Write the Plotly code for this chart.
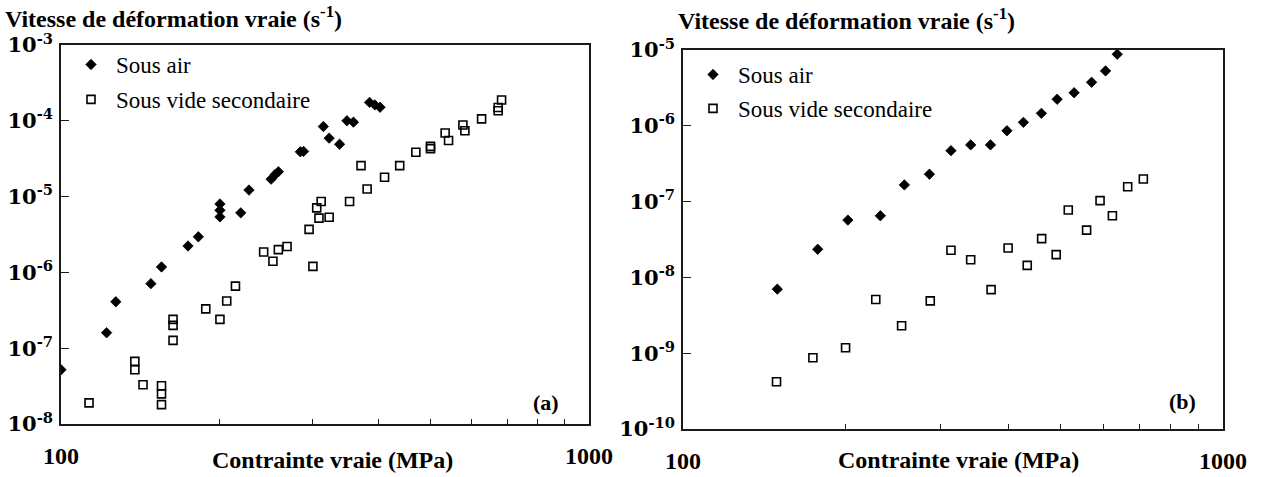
import plotly.graph_objects as go

# ---------------- data ----------------
# Panel (a)
stress_air_a = [100, 122, 127, 148, 155, 174, 182, 200, 200, 200, 219, 227, 250, 254, 258,
                284, 288, 314, 322, 337, 348, 358, 384, 393, 402]
rate_air_a = [5.2e-8, 1.6e-7, 4.1e-7, 7.1e-7, 1.18e-6, 2.23e-6, 2.95e-6, 8.0e-6, 6.6e-6, 5.4e-6,
              6.1e-6, 1.22e-5, 1.7e-5, 1.93e-5, 2.13e-5, 3.9e-5, 3.95e-5, 8.4e-5, 5.9e-5, 4.9e-5,
              1.0e-4, 9.6e-5, 1.75e-4, 1.62e-4, 1.51e-4]

stress_vide_a = [113, 138, 138, 143, 155, 155, 155, 163, 163, 163, 188, 200, 206, 214, 242,
                 252, 258, 268, 300, 295, 305, 311, 308, 322, 352, 370, 380, 410, 438, 470,
                 501, 501, 534, 542, 577, 582, 626, 673, 673, 683]
rate_vide_a = [1.9e-8, 6.7e-8, 5.2e-8, 3.3e-8, 3.2e-8, 2.5e-8, 1.8e-8, 2.4e-7, 2.0e-7, 1.27e-7,
               3.3e-7, 2.4e-7, 4.2e-7, 6.6e-7, 1.86e-6, 1.4e-6, 2.0e-6, 2.2e-6, 1.2e-6, 3.7e-6,
               7.1e-6, 8.6e-6, 5.2e-6, 5.35e-6, 8.6e-6, 2.56e-5, 1.26e-5, 1.8e-5, 2.56e-5, 3.85e-5,
               4.6e-5, 4.3e-5, 6.9e-5, 5.5e-5, 8.8e-5, 7.4e-5, 1.06e-4, 1.36e-4, 1.5e-4, 1.88e-4]

# Panel (b)
stress_air_b = [149.5, 177.6, 202, 232, 257, 286, 313.5, 341, 371, 398, 427, 461, 493, 530,
                571, 606, 637]
rate_air_b = [7.0e-9, 2.35e-8, 5.7e-8, 6.5e-8, 1.66e-7, 2.3e-7, 4.7e-7, 5.6e-7, 5.6e-7, 8.6e-7,
              1.11e-6, 1.46e-6, 2.24e-6, 2.73e-6, 3.75e-6, 5.3e-6, 8.8e-6]

stress_vide_b = [149, 174, 200, 227.5, 254, 287, 313.5, 341, 372, 400, 434, 461.5, 491, 517,
                 559, 592, 624, 666, 712]
rate_vide_b = [4.2e-10, 8.7e-10, 1.18e-9, 5.1e-9, 2.3e-9, 4.9e-9, 2.28e-8, 1.71e-8, 6.9e-9,
               2.44e-8, 1.44e-8, 3.25e-8, 2.0e-8, 7.75e-8, 4.2e-8, 1.03e-7, 6.5e-8, 1.57e-7,
               1.99e-7]

series_names = ["Sous air", "Sous vide secondaire"]
x_ticks = [100, 200, 300, 400, 500, 600, 700, 800, 900, 1000]
x_ticktext = ["100", "", "", "", "", "", "", "", "", "1000"]
y_exp_a = [-8, -7, -6, -5, -4, -3]
y_exp_b = [-10, -9, -8, -7, -6, -5]
y_title = "Vitesse de déformation vraie (s<sup>-1</sup>)"
x_title = "Contrainte vraie (MPa)"
panel_labels = ["(a)", "(b)"]

# ---------------- figure ----------------
W, H = 1263, 477
SERIF = "Liberation Serif, Tinos, 'Times New Roman', Times, serif"
INK = "#1a1a1a"

fig = go.Figure()

air_marker = dict(symbol="diamond", size=8, color="black", line=dict(width=0.8, color="black"))
vide_marker = dict(symbol="square-open", size=8, color="black", line=dict(width=1.6, color="black"))

fig.add_trace(go.Scatter(x=stress_air_a, y=rate_air_a, mode="markers", name=series_names[0],
                         marker=air_marker, xaxis="x", yaxis="y", legend="legend",
                         legendgroup="a1"))
fig.add_trace(go.Scatter(x=stress_vide_a, y=rate_vide_a, mode="markers", name=series_names[1],
                         marker=vide_marker, xaxis="x", yaxis="y", legend="legend",
                         legendgroup="a2"))
fig.add_trace(go.Scatter(x=stress_air_b, y=rate_air_b, mode="markers", name=series_names[0],
                         marker=air_marker, xaxis="x2", yaxis="y2", legend="legend2",
                         legendgroup="b1"))
fig.add_trace(go.Scatter(x=stress_vide_b, y=rate_vide_b, mode="markers", name=series_names[1],
                         marker=vide_marker, xaxis="x2", yaxis="y2", legend="legend2",
                         legendgroup="b2"))


def px_x(p):
    return p / W


def px_y(p):
    return 1 - p / H


common_x = dict(type="log", range=[2, 3], tickvals=x_ticks, ticktext=x_ticktext,
                ticks="inside", ticklen=5, tickwidth=1.3, tickcolor=INK,
                showline=True, linecolor=INK, linewidth=1.6, mirror=True,
                showgrid=False, zeroline=False, ticklabelstandoff=9, automargin=False,
                tickfont=dict(family=SERIF, size=24, color="black", weight="bold"))


def y_axis(exps, dom):
    return dict(type="log", range=[exps[0], exps[-1]], domain=dom,
                tickvals=[10.0 ** e for e in exps],
                ticktext=["10<sup>%d</sup>" % e for e in exps],
                ticks="inside", ticklen=8, tickwidth=1.3, tickcolor=INK,
                showline=True, linecolor=INK, linewidth=1.6, mirror=True,
                showgrid=False, zeroline=False, ticklabelstandoff=2, automargin=False,
                tickfont=dict(family="DejaVu Serif", size=21, color="black", weight="bold"))


fig.update_layout(
    width=W, height=H,
    margin=dict(l=0, r=0, t=0, b=0, autoexpand=False),
    paper_bgcolor="white", plot_bgcolor="white",
    xaxis=dict(common_x, domain=[px_x(61), px_x(589)], anchor="y"),
    yaxis=y_axis(y_exp_a, [px_y(424), px_y(45)]) | dict(anchor="x"),
    xaxis2=dict(common_x, domain=[px_x(683), px_x(1223)], anchor="y2"),
    yaxis2=y_axis(y_exp_b, [px_y(429), px_y(50)]) | dict(anchor="x2"),
    legend=dict(x=px_x(66), y=px_y(43), xanchor="left", yanchor="top",
                bgcolor="rgba(0,0,0,0)", itemwidth=40, tracegroupgap=2,
                traceorder="grouped",
                font=dict(family=SERIF, size=23, color="black")),
    legend2=dict(x=px_x(688), y=px_y(53), xanchor="left", yanchor="top",
                 bgcolor="rgba(0,0,0,0)", itemwidth=40, tracegroupgap=1,
                 traceorder="grouped",
                 font=dict(family=SERIF, size=23, color="black")),
    showlegend=True,
)

ann_font = dict(family=SERIF, size=24, color="black", weight="bold")
annotations = [
    dict(text=y_title, x=px_x(3), y=px_y(17), xanchor="left", yanchor="middle",
         showarrow=False, xref="paper", yref="paper", font=ann_font),
    dict(text=y_title, x=px_x(676), y=px_y(19), xanchor="left", yanchor="middle",
         showarrow=False, xref="paper", yref="paper", font=ann_font),
    dict(text=x_title, x=px_x(332), y=px_y(460), xanchor="center", yanchor="middle",
         showarrow=False, xref="paper", yref="paper",
         font=dict(family=SERIF, size=24, color="black", weight="bold")),
    dict(text=x_title, x=px_x(958), y=px_y(460), xanchor="center", yanchor="middle",
         showarrow=False, xref="paper", yref="paper",
         font=dict(family=SERIF, size=24, color="black", weight="bold")),
    dict(text=panel_labels[0], x=px_x(546), y=px_y(402), xanchor="center", yanchor="middle",
         showarrow=False, xref="paper", yref="paper",
         font=dict(family=SERIF, size=22, color="black", weight="bold")),
    dict(text=panel_labels[1], x=px_x(1182), y=px_y(401), xanchor="center", yanchor="middle",
         showarrow=False, xref="paper", yref="paper",
         font=dict(family=SERIF, size=22, color="black", weight="bold")),
]
fig.update_layout(annotations=annotations)

fig.write_html("out.html", config={"displayModeBar": False},
               post_script="document.body.style.margin='0';document.body.style.overflow='hidden';")
